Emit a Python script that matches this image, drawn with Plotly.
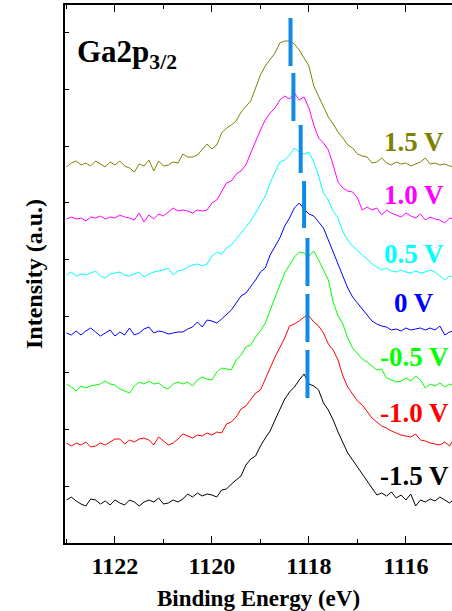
import plotly.graph_objects as go

# Binding energy grid (eV), 0.1 eV steps from 1123.0 down to 1115.0
energy = [round(1123.0 - 0.1 * i, 1) for i in range(81)]

# Stacked spectra (a.u., vertical offsets included)
s_p15 = [376,380,382,378,380,377,382,379,376,381,
         378,382,377,375,371,379,377,383,372,382,
         377,378,381,380,389,386,386,388,393,399,
         394,398,410,415,418,422,431,436,442,455,
         468,477,483,490,500,502,502,499,493,485,
         477,457,447,436,426,419,411,405,398,395,
         389,387,386,380,381,385,380,378,381,379,
         380,377,379,381,385,379,380,378,379,377,376]
s_p10 = [324,326,324,325,322,326,325,327,324,326,
         325,328,326,325,323,330,321,328,324,329,
         327,331,335,332,333,332,330,333,332,333,
         340,343,351,360,362,369,372,378,390,402,
         413,423,430,435,443,447,444,450,443,446,
         435,418,405,400,393,378,361,355,352,351,
         345,333,336,333,335,328,333,330,328,326,
         330,327,325,329,323,326,324,323,320,325,324]
s_p05 = [268,271,267,269,268,270,272,267,265,269,
         270,271,268,267,269,271,266,269,271,272,
         273,275,268,272,273,276,278,279,277,279,
         287,291,289,295,298,304,310,316,322,330,
         338,347,360,370,381,383,388,395,391,389,
         391,381,367,350,343,332,325,311,303,297,
         292,288,284,279,276,273,275,272,271,273,
         271,270,272,270,271,273,271,267,263,267,266]
s_0 = [210,208,212,208,212,215,211,207,210,213,
       207,211,208,215,208,210,214,216,210,212,
       211,209,210,211,211,214,216,221,216,223,
       222,220,224,229,233,240,247,250,256,263,
       271,275,288,296,305,317,325,335,340,334,
       329,327,321,315,303,291,278,268,255,246,
       240,234,228,222,219,217,216,213,214,212,
       215,213,214,215,213,215,213,217,208,211,212]
s_m05 = [159,156,152,157,155,157,158,159,162,159,
         158,154,152,150,157,161,159,162,159,160,
         156,154,159,161,159,161,157,163,166,164,
         163,171,175,174,173,183,188,196,198,206,
         212,220,233,247,258,270,278,286,291,290,
         287,292,283,273,263,241,227,219,205,195,
         189,184,181,177,173,174,165,163,161,162,
         165,162,167,163,155,159,157,160,156,159,157]
s_m10 = [100,97,100,98,101,96,97,100,98,101,
         104,104,99,103,101,104,105,103,98,106,
         102,98,100,104,109,107,105,108,107,110,
         108,111,110,119,121,126,134,137,143,150,
         153,165,175,186,195,205,217,219,222,226,
         227,221,217,210,199,193,183,167,156,149,
         142,138,131,125,121,117,115,112,110,108,
         107,106,109,103,102,100,99,98,101,97,105]
s_m15 = [43,46,42,39,37,44,43,39,42,38,
         43,40,38,43,41,37,41,43,41,45,
         39,40,43,41,44,49,46,50,47,49,
         48,46,53,54,59,63,67,78,84,87,
         97,105,112,123,133,144,151,156,163,169,
         159,157,153,140,133,123,111,101,90,83,
         76,70,63,56,48,50,47,51,45,48,
         43,49,37,43,41,44,42,46,43,40,44]

bias_labels = ["1.5 V", "1.0 V", "0.5 V", "0 V", "-0.5 V", "-1.0 V", "-1.5 V"]
series = [s_p15, s_p10, s_p05, s_0, s_m05, s_m10, s_m15]
colors = ["#808000", "#ff00ff", "#00ffff", "#0000ff", "#00ff00", "#ff0000", "#000000"]
label_y = [401, 348, 289, 240, 186, 130, 67]
label_x = 1115.83

# Peak-position markers (dashed guide): energy and vertical extent per spectrum
peak_x = [1118.38, 1118.32, 1118.17, 1118.10, 1118.03, 1118.03, 1118.03]
peak_top = [525, 470, 418, 362, 305, 249, 193]
peak_bot = [477, 422, 370, 315, 257, 201, 145]

xt = [1122, 1120, 1118, 1116]
font_fam = "Liberation Serif, Times New Roman, serif"

fig = go.Figure()
for s, c in zip(series, colors):
    fig.add_trace(go.Scatter(x=energy, y=s, mode="lines",
                             line=dict(color=c, width=1), showlegend=False,
                             hoverinfo="skip"))

dx, dy = [], []
for x0, t, b in zip(peak_x, peak_top, peak_bot):
    dx += [x0, x0, None]
    dy += [t, b, None]
fig.add_trace(go.Scatter(x=dx, y=dy, mode="lines",
                         line=dict(color="#108ae3", width=4),
                         showlegend=False, hoverinfo="skip"))

for t, c, yy in zip(bias_labels, colors, label_y):
    fig.add_annotation(x=label_x, y=yy, text=t, showarrow=False,
                       xanchor="center", yanchor="middle",
                       font=dict(family=font_fam, size=27, color=c, weight="bold"))

fig.add_annotation(xref="paper", x=0.025, y=511, yanchor="top", xanchor="left",
                   text="Ga2p<sub>3/2</sub>", showarrow=False,
                   font=dict(family=font_fam, size=31, color="black", weight="bold"))

fig.update_layout(
    width=452, height=611,
    margin=dict(l=65, r=0, t=5, b=68),
    paper_bgcolor="white", plot_bgcolor="white",
    font=dict(family=font_fam, color="black"),
)
fig.update_xaxes(
    range=[1123.03, 1115.05], tickvals=xt, ticktext=[str(v) for v in xt],
    ticks="inside", ticklen=7, tickwidth=1, tickcolor="black",
    minor=dict(dtick=1, tick0=1115, ticks="inside", ticklen=4, tickcolor="black"),
    showline=True, linecolor="black", linewidth=1.5, mirror="ticks",
    showgrid=False, zeroline=False,
    tickfont=dict(family=font_fam, size=24, weight="bold"),
    title=dict(text="Binding Energy (eV)", standoff=12,
               font=dict(family=font_fam, size=23, weight="bold")),
)
fig.update_yaxes(
    range=[0, 538], tickvals=[56.67 * k for k in range(1, 10)],
    showticklabels=False, ticks="inside", ticklen=4, tickcolor="black",
    showline=True, linecolor="black", linewidth=1.5, mirror=False,
    showgrid=False, zeroline=False,
    title=dict(text="Intensity (a.u.)", standoff=14,
               font=dict(family=font_fam, size=24, weight="bold")),
)

fig.write_html("out.html")
